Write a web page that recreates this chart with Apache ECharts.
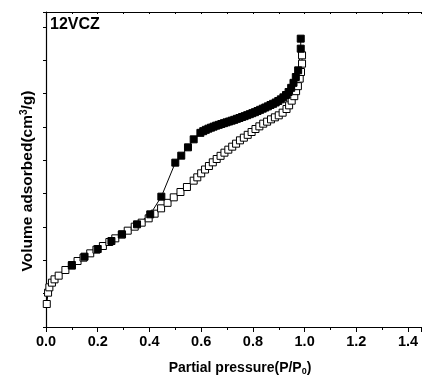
<!DOCTYPE html>
<html><head><meta charset="utf-8">
<script src="https://cdn.jsdelivr.net/npm/echarts@6/dist/echarts.min.js"></script>
<style>html,body{margin:0;padding:0;background:#fff}#c{width:422px;height:380px}</style>
</head><body><div id="c"></div>
<script>
// Adsorption branch (open squares): relative pressure and volume (arbitrary units, y ticks every 20)
const adsP = [0.003,0.008,0.013,0.023,0.033,0.049,0.075,0.1,0.122,0.145,0.171,0.195,0.22,0.245,0.268,0.293,0.316,0.343,0.37,0.397,0.42,0.445,0.47,0.494,0.52,0.545,0.571,0.585,0.6,0.615,0.63,0.645,0.66,0.675,0.69,0.705,0.72,0.735,0.75,0.765,0.78,0.795,0.81,0.825,0.84,0.855,0.87,0.885,0.9,0.915,0.93,0.94,0.95,0.96,0.967,0.974,0.981,0.986,0.99,0.99];
const adsV = [13.8,20.6,23.8,26.6,28.6,30.8,34.2,36.8,39.6,41.6,44.2,46.4,48.6,51,53.2,55.5,57.8,60.2,62.6,65.2,68,71.2,74.5,77.8,81,84,87.8,89.8,92.2,94.5,96.6,98.8,100.8,102.7,104.6,106.4,108.2,110,112,113.6,115.3,117,118.8,120.4,122,123.2,124.6,125.8,127,128.6,130.8,133,135.8,138.5,141.5,144.5,149,153,158,163];
// Desorption branch (filled squares)
const desP = [0.985,0.985,0.975,0.966,0.957,0.948,0.938,0.928,0.918,0.908,0.898,0.888,0.878,0.868,0.858,0.848,0.838,0.828,0.818,0.808,0.798,0.788,0.778,0.768,0.758,0.748,0.738,0.728,0.718,0.708,0.698,0.688,0.678,0.668,0.658,0.648,0.638,0.628,0.618,0.608,0.597,0.571,0.549,0.523,0.5,0.446,0.403,0.352,0.294,0.253,0.2,0.149,0.1];
const desV = [173,167,154,150,146.5,143.5,141,139.2,137.8,136.6,135.6,134.7,133.9,133.2,132.4,131.7,131,130.3,129.6,128.9,128.3,127.7,127.1,126.5,126,125.4,124.9,124.3,123.8,123.3,122.8,122.3,121.8,121.3,120.8,120.2,119.6,119,118.3,117.5,116.5,112.6,107.8,102.8,98.6,78.2,67.6,61.6,55.6,51.6,46.8,42.2,37.2];
const xTickLabels = ['0.0','0.2','0.4','0.6','0.8','1.0','1.2','1.4'];
const sampleName = '12VCZ';

const chart = echarts.init(document.getElementById('c'));
const FONT = '"Liberation Sans", Arial, sans-serif';
const pair = (a,b)=>a.map((v,i)=>[v,b[i]]);
chart.setOption({
  animation:false,
  grid:{left:46,top:12,right:1,bottom:53},
  xAxis:[{
    type:'value',min:0,max:1.45,interval:0.2,position:'bottom',
    axisLine:{lineStyle:{color:'#000',width:1.2}},
    axisTick:{inside:false,length:5,lineStyle:{color:'#000'}},
    minorTick:{show:true,splitNumber:2,length:3,lineStyle:{color:'#000'}},
    splitLine:{show:false},
    axisLabel:{color:'#000',fontFamily:FONT,fontWeight:'bold',fontSize:14.5,margin:7,showMaxLabel:false,
      formatter:v=>{const i=Math.round(v/0.2);return Math.abs(v-i*0.2)<1e-6&&i<xTickLabels.length?xTickLabels[i]:'';}}
  },{
    type:'value',min:0,max:1.45,interval:0.1,position:'top',
    axisLine:{show:true,lineStyle:{color:'#000',width:1.2}},
    axisTick:{show:true,inside:true,length:2,lineStyle:{color:'#000'}},
    axisLabel:{show:false},splitLine:{show:false}
  }],
  yAxis:{
    type:'value',min:0,max:189,interval:20,
    axisLine:{show:true,lineStyle:{color:'#000',width:1.2}},
    axisTick:{show:true,inside:false,length:3,lineStyle:{color:'#000'}},
    axisLabel:{show:false},splitLine:{show:false}
  },
  graphic:[
    {type:'text',left:50,top:17,style:{text:sampleName,fontFamily:FONT,fontWeight:'bold',fontSize:16,fill:'#000'}},
    {type:'text',x:240,y:368,style:{text:'{n|Partial pressure(P/P}{s|0}{n|)}',align:'center',verticalAlign:'middle',
      rich:{n:{fontFamily:FONT,fontWeight:'bold',fontSize:14,fill:'#000',color:'#000'},
            s:{fontFamily:FONT,fontWeight:'bold',fontSize:9,fill:'#000',color:'#000',verticalAlign:'bottom',padding:[7,0,0,0]}}}},
    {type:'text',x:28,y:181,rotation:Math.PI/2,style:{text:'{n|Volume adsorbed(cm}{p|3}{n|/g)}',align:'center',verticalAlign:'middle',
      rich:{n:{fontFamily:FONT,fontWeight:'bold',fontSize:15.5,fill:'#000',color:'#000'},
            p:{fontFamily:FONT,fontWeight:'bold',fontSize:10,fill:'#000',color:'#000',verticalAlign:'top',padding:[0,0,7,0]}}}}
  ],
  series:[
    {type:'line',name:'ads',data:pair(adsP,adsV),symbol:'rect',symbolSize:7,
     lineStyle:{color:'#000',width:1},itemStyle:{color:'#fff',borderColor:'#000',borderWidth:1}},
    {type:'line',name:'des',data:pair(desP,desV),symbol:'rect',symbolSize:7,
     lineStyle:{color:'#000',width:1},itemStyle:{color:'#000',borderColor:'#000',borderWidth:1}}
  ]
});
</script></body></html>
